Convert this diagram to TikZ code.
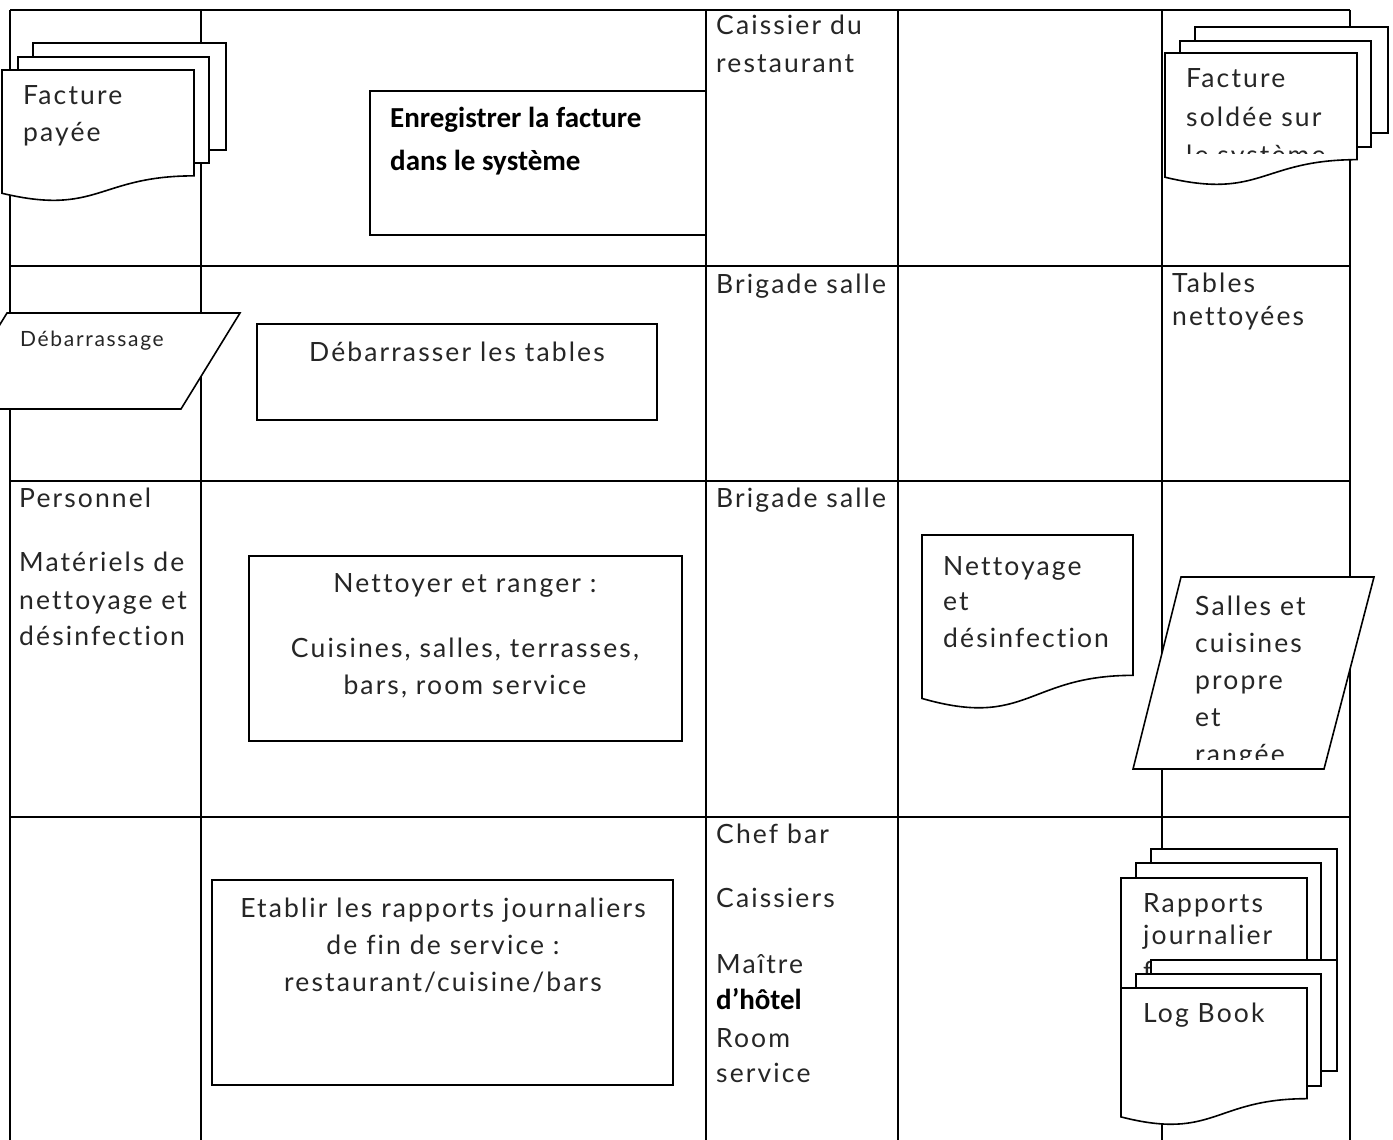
\documentclass[tikz,border=0pt]{standalone}
\usepackage{fontspec}
\setmainfont{Lato}[LetterSpace=8, Ligatures=CommonOff]
\newfontfamily\calfont{Carlito}
\newcommand\docshape[4]{%
  \draw[sheet] (#1,#2) -- (#3,#2) -- (#3,{#2+0.802*#4})
    .. controls ({(#1+#3)/2},{#2+0.802*#4}) and ({(#1+#3)/2},{#2+1.1075*#4}) .. (#1,{#2+0.934*#4}) -- cycle;}
\begin{document}
\begin{tikzpicture}[x=1pt,y=-1pt,
  gridline/.style={line width=2pt},
  sheet/.style={draw, line width=1.6pt, fill=white},
  boxshape/.style={draw, line width=1.6pt},
  txt/.style={anchor=base west, inner sep=0pt, text=black!85, font=\fontsize{26.5}{30}\selectfont},
  ctxt/.style={anchor=base, inner sep=0pt, text=black!85, font=\fontsize{26.5}{30}\selectfont},
  stxt/.style={anchor=base west, inner sep=0pt, text=black!85, font=\fontsize{21}{24}\selectfont},
  btxt/.style={anchor=base west, inner sep=0pt, text=black, font=\calfont\bfseries\fontsize{29}{32}\selectfont}]
\useasboundingbox (0,0) rectangle (1393,1140);
\fill[white] (0,0) rectangle (1393,1140);
% grid
\draw[gridline] (10,10) -- (1350,10);
\foreach \yy in {266,481,817} \draw[gridline] (10,\yy) -- (1350,\yy);
\foreach \xx in {10,201,706,898,1162,1350} \draw[gridline] (\xx,10) -- (\xx,1140);

% Row 1
\draw[sheet] (33,43) rectangle (226,150);
\draw[sheet] (18,57) rectangle (209,163);
\docshape{2}{70}{194}{132}
\node[txt] (fp1) at (23,104) {Facture};
\node[txt] (fp2) at (23,141) {payée};

\draw[boxshape] (370,91) rectangle (706,235);
\node[btxt] (en1) at (390,128) {Enregistrer la facture};
\node[btxt] (en2) at (390,170) {dans le système};

\node[txt] (ca1) at (716,35) {Caissier du};
\node[txt] (ca2) at (716,73) {restaurant};

\draw[sheet] (1195,27) rectangle (1388,133);
\draw[sheet] (1180,41) rectangle (1371,147);
\docshape{1165}{53}{1357}{133}
\node[txt] (fs1) at (1186,88) {Facture};
\node[txt] (fs2) at (1186,126) {soldée sur};
\begin{scope}
\clip (1165,130) rectangle (1357,153);
\node[txt] (fs3) at (1186,164) {le système};
\end{scope}

% Row 2
\draw[sheet] (7,313) -- (240,313) -- (181,409) -- (-52,409) -- cycle;
\node[stxt] (deb) at (20,346) {Débarrassage};
\draw[boxshape] (257,324) rectangle (657,420);
\node[ctxt] (dt) at (457,361) {Débarrasser les tables};
\node[txt] (bs1) at (716,293) {Brigade salle};
\node[txt] (tn1) at (1172,292) {Tables};
\node[txt] (tn2) at (1172,325) {nettoyées};

% Row 3
\node[txt] (pe1) at (19,507) {Personnel};
\node[txt] (pe2) at (19,571) {Matériels de};
\node[txt] (pe3) at (19,609) {nettoyage et};
\node[txt] (pe4) at (19,645) {désinfection};
\draw[boxshape] (249,556) rectangle (682,741);
\node[ctxt] (nr1) at (465,592) {Nettoyer et ranger :};
\node[ctxt] (nr2) at (465,657) {Cuisines, salles, terrasses,};
\node[ctxt] (nr3) at (465,694) {bars, room service};
\node[txt] (bs2) at (716,507) {Brigade salle};
\docshape{922}{535}{1133}{175}
\node[txt] (nd1) at (943,575) {Nettoyage};
\node[txt] (nd2) at (943,610) {et};
\node[txt] (nd3) at (943,647) {désinfection};
\draw[sheet] (1181,577) -- (1374,577) -- (1324,769) -- (1133,769) -- cycle;
\node[txt] (sc1) at (1195,615) {Salles et};
\node[txt] (sc2) at (1195,652) {cuisines};
\node[txt] (sc3) at (1195,689) {propre};
\node[txt] (sc4) at (1195,726) {et};
\begin{scope}
\clip (1150,735) rectangle (1350,759);
\node[txt] (sc5) at (1195,763) {rangée};
\end{scope}

% Row 4
\draw[boxshape] (212,880) rectangle (673,1085);
\node[ctxt] (er1) at (443,917) {Etablir les rapports journaliers};
\node[ctxt] (er2) at (443,954) {de fin de service :};
\node[ctxt] (er3) at (443,991) {restaurant/cuisine/bars};
\node[txt] (cb1) at (716,843) {Chef bar};
\node[txt] (cb2) at (716,907) {Caissiers};
\node[txt] (cb3) at (716,973) {Maître};
\node[btxt] (cb4) at (716,1009) {d’hôtel};
\node[txt] (cb5) at (716,1047) {Room};
\node[txt] (cb6) at (716,1082) {service};

\draw[sheet] (1151,849) rectangle (1337,960);
\draw[sheet] (1136,863) rectangle (1321,974);
\docshape{1121}{878}{1307}{138}
\node[txt] (rj1) at (1143,912) {Rapports};
\node[txt] (rj2) at (1143,944) {journalier};
\node[txt] (rj3) at (1143,980) {fin de service :};
\draw[sheet] (1151,960) rectangle (1337,1071);
\draw[sheet] (1136,974) rectangle (1321,1086);
\docshape{1121}{988}{1307}{138}
\node[txt] (lb) at (1143,1022) {Log Book};
\end{tikzpicture}
\end{document}
